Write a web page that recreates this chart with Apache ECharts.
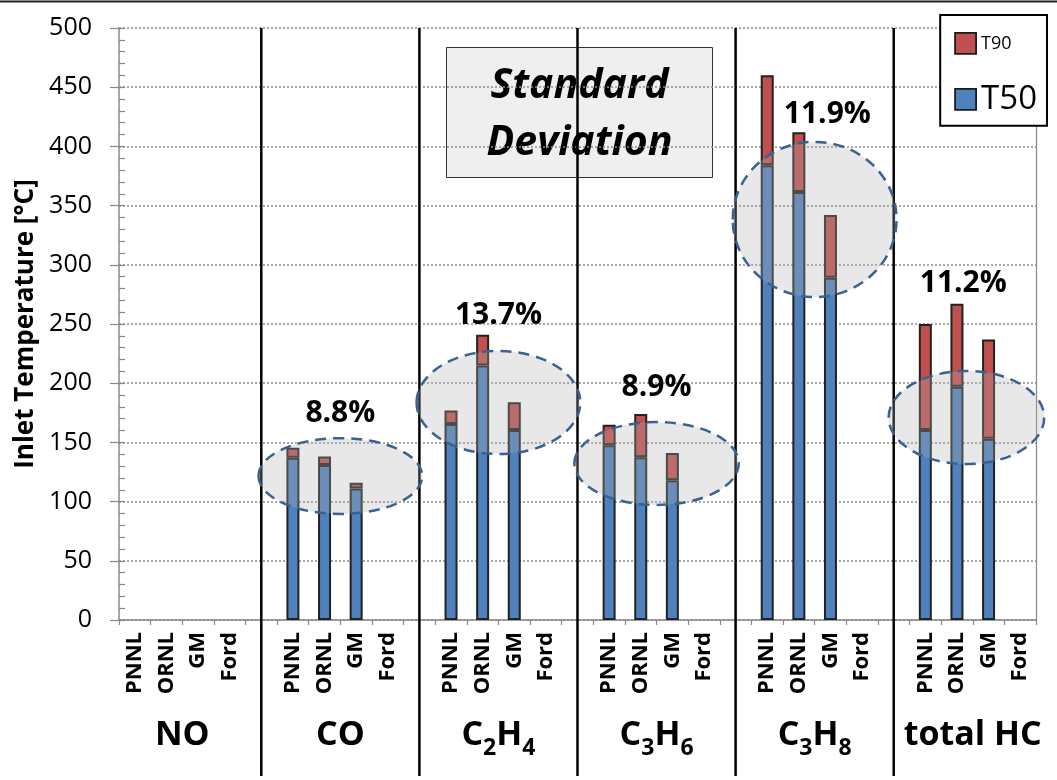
<!DOCTYPE html>
<html><head><meta charset="utf-8">
<script src="https://cdn.jsdelivr.net/npm/echarts@6/dist/echarts.min.js"></script>
<style>html,body{margin:0;padding:0;background:#fff}#c{width:1057px;height:780px}</style>
</head><body><div id="c"></div>
<script>
// ---- data ----
const categories = [
  'PNNL','ORNL','GM','Ford','',
  'PNNL','ORNL','GM','Ford','',
  'PNNL','ORNL','GM','Ford','',
  'PNNL','ORNL','GM','Ford','',
  'PNNL','ORNL','GM','Ford','',
  'PNNL','ORNL','GM','Ford'
];
const groupLabels = ['{n|NO}', '{n|CO}', '{n|C}{s|2}{n|H}{s|4}', '{n|C}{s|3}{n|H}{s|6}', '{n|C}{s|3}{n|H}{s|8}', '{n|total HC}'];
const t50 = [
  null, null, null, null, null,
  137, 131, 111, null, null,
  165.5, 215, 160.5, null, null,
  147.5, 137.5, 118, null, null,
  384, 361.5, 289, null, null,
  160.5, 197, 153, null
];
const t90 = [
  null, null, null, null, null,
  145.5, 138, 116, null, null,
  177, 241, 184, null, null,
  165, 174, 141, null, null,
  460, 412, 342, null, null,
  250, 267, 237, null
];
const separatorIdx = [4, 9, 14, 19, 24];
const stdDevText = ['8.8%', '13.7%', '8.9%', '11.9%', '11.2%'];
const ellipseX = [6.5, 11.5, 16.5, 21.5, 26.3];      // category index of centre
const ellipseY = [121.6, 183.7, 132.2, 338.3, 171];  // value of centre
const ellipseRx = [2.59, 2.59, 2.6, 2.59, 2.46];     // half width in category slots
const ellipseRy = [32, 43.5, 35, 65.5, 39.3];        // half height in value units
const pctX = [6.5, 11.5, 16.5, 21.9, 26.2];
const pctY = [174.8, 257.6, 196.8, 427, 284.6];
const yMin = 0, yMax = 500, yInterval = 50, yMinor = 10;

const t90seg = t90.map((v, i) => v == null ? null : +(v - t50[i]).toFixed(2));

function px(api, xi, yv) {
  const a = api.coord([0, yv]);
  const b = api.coord([1, yv]);
  return [a[0] + xi * (b[0] - a[0]), a[1]];
}

const chart = echarts.init(document.getElementById('c'), null, {renderer: 'canvas'});
const FF = '"Open Sans", "Noto Sans", sans-serif';

chart.setOption({
  animation: false,
  backgroundColor: '#fff',
  grid: {left: 119, right: 21, top: 28, bottom: 160},
  legend: {
    data: ['T90', 'T50'],
    orient: 'vertical',
    right: 10, top: 15,
    backgroundColor: '#fff',
    borderColor: '#000', borderWidth: 2, borderRadius: 0,
    padding: [17, 10, 10, 14],
    itemWidth: 21, itemHeight: 21, itemGap: 28, itemTextGap: 9,
    icon: 'rect',
    itemStyle: {borderColor: '#1a1a1a', borderWidth: 1.8},
    formatter: n => n === 'T90' ? '{s|T90}' : '{l|T50}',
    textStyle: {
      color: '#000', fontFamily: FF,
      rich: {
        s: {fontSize: 18, lineHeight: 21, fontFamily: FF, color: '#000'},
        l: {fontSize: 33, lineHeight: 32, fontFamily: FF, color: '#000'}
      }
    }
  },
  xAxis: {
    type: 'category', data: categories, boundaryGap: true,
    axisLine: {lineStyle: {color: '#888', width: 1.5}},
    axisTick: {show: true, interval: 0, length: 5, lineStyle: {color: '#888', width: 1.2}},
    axisLabel: {interval: 0, rotate: 90, margin: 12, color: '#000', fontFamily: FF, fontWeight: 'bold', fontSize: 22},
    splitLine: {show: false}
  },
  yAxis: [
    {
      type: 'value', min: yMin, max: yMax, interval: yInterval, position: 'left',
      name: 'Inlet Temperature [°C]', nameLocation: 'middle', nameGap: 78,
      nameTextStyle: {color: '#000', fontFamily: FF, fontWeight: 'bold', fontSize: 26},
      axisLine: {show: true, lineStyle: {color: '#888', width: 1.5}},
      axisTick: {show: true, length: 9, lineStyle: {color: '#888', width: 1.2}},
      axisLabel: {margin: 27, color: '#000', fontFamily: FF, fontSize: 25},
      splitLine: {show: true, lineStyle: {color: '#8c8c8c', width: 1.5, type: [2, 2]}}
    },
    {
      type: 'value', min: yMin, max: yMax, interval: yMinor, position: 'left',
      axisLine: {show: false},
      axisTick: {show: true, inside: true, length: 6, lineStyle: {color: '#888', width: 1.2}},
      axisLabel: {show: false}, splitLine: {show: false}
    },
    {
      type: 'value', min: yMin, max: yMax, interval: yInterval, position: 'right',
      axisLine: {show: true, lineStyle: {color: '#888', width: 1.2}},
      axisTick: {show: false}, axisLabel: {show: false}, splitLine: {show: false}
    }
  ],
  series: [
    {
      type: 'custom', name: 'sep', z: 3, silent: true, clip: false,
      data: separatorIdx.map(i => [i, 0]),
      renderItem: (params, api) => {
        const i = separatorIdx[params.dataIndex];
        const p0 = api.coord([i, yMax]);
        const p1 = api.coord([i, yMin]);
        return {type: 'line', shape: {x1: p0[0], y1: p0[1], x2: p0[0], y2: p1[1] + 156},
                style: {stroke: '#000', lineWidth: 2.5}};
      }
    },
    {
      type: 'bar', name: 'T50', stack: 'a', barWidth: 13, z: 4,
      data: t50,
      itemStyle: {color: '#4F81BD', borderColor: '#222', borderWidth: 2}
    },
    {
      type: 'bar', name: 'T90', stack: 'a', barWidth: 13, z: 4,
      data: t90seg,
      itemStyle: {color: '#C0504D', borderColor: '#222', borderWidth: 2}
    },
    {
      type: 'custom', name: 'ell', z: 6, silent: true, clip: false,
      data: ellipseX.map((x, i) => [i, 0]),
      renderItem: (params, api) => {
        const k = params.dataIndex;
        const c = px(api, ellipseX[k], ellipseY[k]);
        const slot = api.coord([1, 0])[0] - api.coord([0, 0])[0];
        const ry = Math.abs(api.coord([0, ellipseY[k] + ellipseRy[k]])[1] - c[1]);
        const t = px(api, pctX[k], pctY[k]);
        return {type: 'group', children: [
          {type: 'ellipse', shape: {cx: c[0], cy: c[1], rx: ellipseRx[k] * slot, ry: ry},
           style: {fill: 'rgba(176,176,176,0.29)', stroke: '#3a6291', lineWidth: 2.5, lineDash: [11, 7]}},
          {type: 'text', x: t[0], y: t[1],
           style: {text: stdDevText[k], fill: '#000', font: 'bold 30px ' + FF, align: 'center', verticalAlign: 'middle'}}
        ]};
      }
    },
    {
      type: 'custom', name: 'grp', z: 6, silent: true, clip: false,
      data: groupLabels.map((g, i) => [i, 0]),
      renderItem: (params, api) => {
        const k = params.dataIndex;
        const p = px(api, k * 5 + 1.5, yMin);
        return {type: 'text', x: p[0], y: p[1] + 115,
          style: {text: groupLabels[k], align: 'center', verticalAlign: 'middle',
            rich: {
              n: {fill: '#000', fontFamily: FF, fontWeight: 'bold', fontSize: 34, lineHeight: 44},
              s: {fill: '#000', fontFamily: FF, fontWeight: 'bold', fontSize: 23, lineHeight: 44, padding: [26, 0, 0, 0]}
            }}};
      }
    }
  ],
  graphic: [
    {type: 'line', shape: {x1: 0, y1: 1.5, x2: 1057, y2: 1.5}, style: {stroke: '#222', lineWidth: 2}, z: 100},
    {type: 'group', left: 446, top: 47, z: 100, children: [
      {type: 'rect', shape: {x: 0, y: 0, width: 266, height: 130}, style: {fill: '#efefef', stroke: '#333', lineWidth: 1}},
      {type: 'text', x: 133, y: 39, style: {text: 'Standard', fill: '#000', font: 'italic bold 41px ' + FF, align: 'center', verticalAlign: 'middle'}},
      {type: 'text', x: 133, y: 96, style: {text: 'Deviation', fill: '#000', font: 'italic bold 41px ' + FF, align: 'center', verticalAlign: 'middle'}}
    ]}
  ]
});
</script></body></html>
